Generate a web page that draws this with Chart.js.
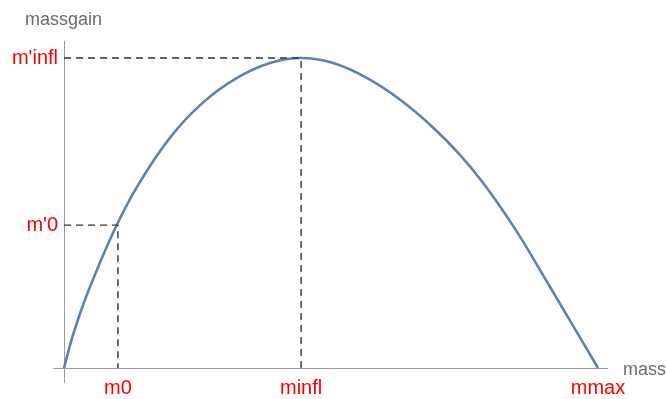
<!DOCTYPE html>
<html>
<head>
<meta charset="utf-8">
<script src="https://cdn.jsdelivr.net/npm/chart.js@4"></script>
<style>
  html, body { margin: 0; padding: 0; background: #fff; }
  #wrap { width: 666px; height: 399px; }
</style>
</head>
<body>
<div id="wrap"><canvas id="myChart"></canvas></div>
<script>
// curve (mass in % of mmax, gain in % of m'infl)
const massX = [0, 1.5, 3.6, 6.2, 9.9, 13.7, 19.9, 26.0, 32.4, 38.6, 44.4, 50.4, 56.7, 62.9, 69.1, 74.2, 78.5, 84.8, 91.0, 97.2, 100]
const gainY = [0, 9.6, 20.5, 31.8, 46.2, 58.5, 74.4, 85.6, 93.6, 98.4, 100, 98.4, 93.6, 86.6, 77.6, 68.7, 59.7, 44.0, 26.2, 8.2, 0]

// marked points
const xTickValues = [10.1, 44.4, 100]
const xTickLabels = ["m0", "minfl", "mmax"]
const yTickValues = [46.1, 100]
const yTickLabels = ["m'0", "m'infl"]

const curve = massX.map((x, i) => ({ x: x, y: gainY[i] }))
const guide0 = [{ x: 0, y: yTickValues[0] }, { x: xTickValues[0], y: yTickValues[0] }, { x: xTickValues[0], y: 0 }]
const guideInfl = [{ x: 0, y: yTickValues[1] }, { x: xTickValues[1], y: yTickValues[1] }, { x: xTickValues[1], y: 0 }]

const axesPlugin = {
  id: 'axes',
  beforeDatasetsDraw(chart) {
    const c = chart.ctx
    const xs = chart.scales.x
    const ys = chart.scales.y
    const x0 = xs.getPixelForValue(0)
    const y0 = ys.getPixelForValue(0)
    c.save()
    c.strokeStyle = '#9a9a9a'
    c.lineWidth = 1
    c.beginPath()
    c.moveTo(xs.getPixelForValue(-2), y0 + 0.5)
    c.lineTo(xs.getPixelForValue(101.9), y0 + 0.5)
    c.moveTo(x0 + 0.5, ys.getPixelForValue(105.5))
    c.lineTo(x0 + 0.5, ys.getPixelForValue(-4.8))
    c.stroke()
    c.fillStyle = '#6b6b6b'
    c.font = '18px "Liberation Sans", Arial, sans-serif'
    c.textBaseline = 'alphabetic'
    c.textAlign = 'left'
    c.fillText('massgain', 25, 25)
    c.fillText('mass', 623, 375)
    c.restore()
  }
}

const ctx = document.getElementById('myChart')
new Chart(ctx, {
  type: 'scatter',
  data: {
    datasets: [
      {
        data: guide0,
        showLine: true,
        borderColor: '#333',
        borderWidth: 1.4,
        borderDash: [7, 5],
        pointRadius: 0,
      },
      {
        data: guideInfl,
        showLine: true,
        borderColor: '#333',
        borderWidth: 1.4,
        borderDash: [7, 5],
        pointRadius: 0,
      },
      {
        data: curve,
        showLine: true,
        borderColor: '#5e81b5',
        borderWidth: 2.6,
        cubicInterpolationMode: 'monotone',
        pointRadius: 0,
      },
    ]
  },
  options: {
    responsive: true,
    maintainAspectRatio: false,
    animation: false,
    clip: false,
    layout: { padding: { left: 0, right: 68, top: 58, bottom: 0 } },
    plugins: {
      legend: { display: false },
      tooltip: { enabled: false },
    },
    scales: {
      x: {
        type: 'linear',
        min: 0,
        max: 100,
        grid: { display: false, drawTicks: false },
        border: { display: false },
        afterFit: (s) => { s.height = 31 },
        afterBuildTicks: (s) => { s.ticks = xTickValues.map(v => ({ value: v })) },
        ticks: {
          padding: 8,
          color: '#ff0000',
          font: { size: 20, family: '"Liberation Sans", Arial, sans-serif' },
          maxRotation: 0,
          autoSkip: false,
          callback: (v, i) => xTickLabels[i],
        },
      },
      y: {
        type: 'linear',
        min: 0,
        max: 100,
        grid: { display: false, drawTicks: false },
        border: { display: false },
        afterFit: (s) => { s.width = 64 },
        afterBuildTicks: (s) => { s.ticks = yTickValues.map(v => ({ value: v })) },
        ticks: {
          padding: 6,
          color: '#ff0000',
          font: { size: 20, family: '"Liberation Sans", Arial, sans-serif' },
          autoSkip: false,
          callback: (v, i) => yTickLabels[i],
        },
      },
    },
  },
  plugins: [axesPlugin],
})
</script>
</body>
</html>
